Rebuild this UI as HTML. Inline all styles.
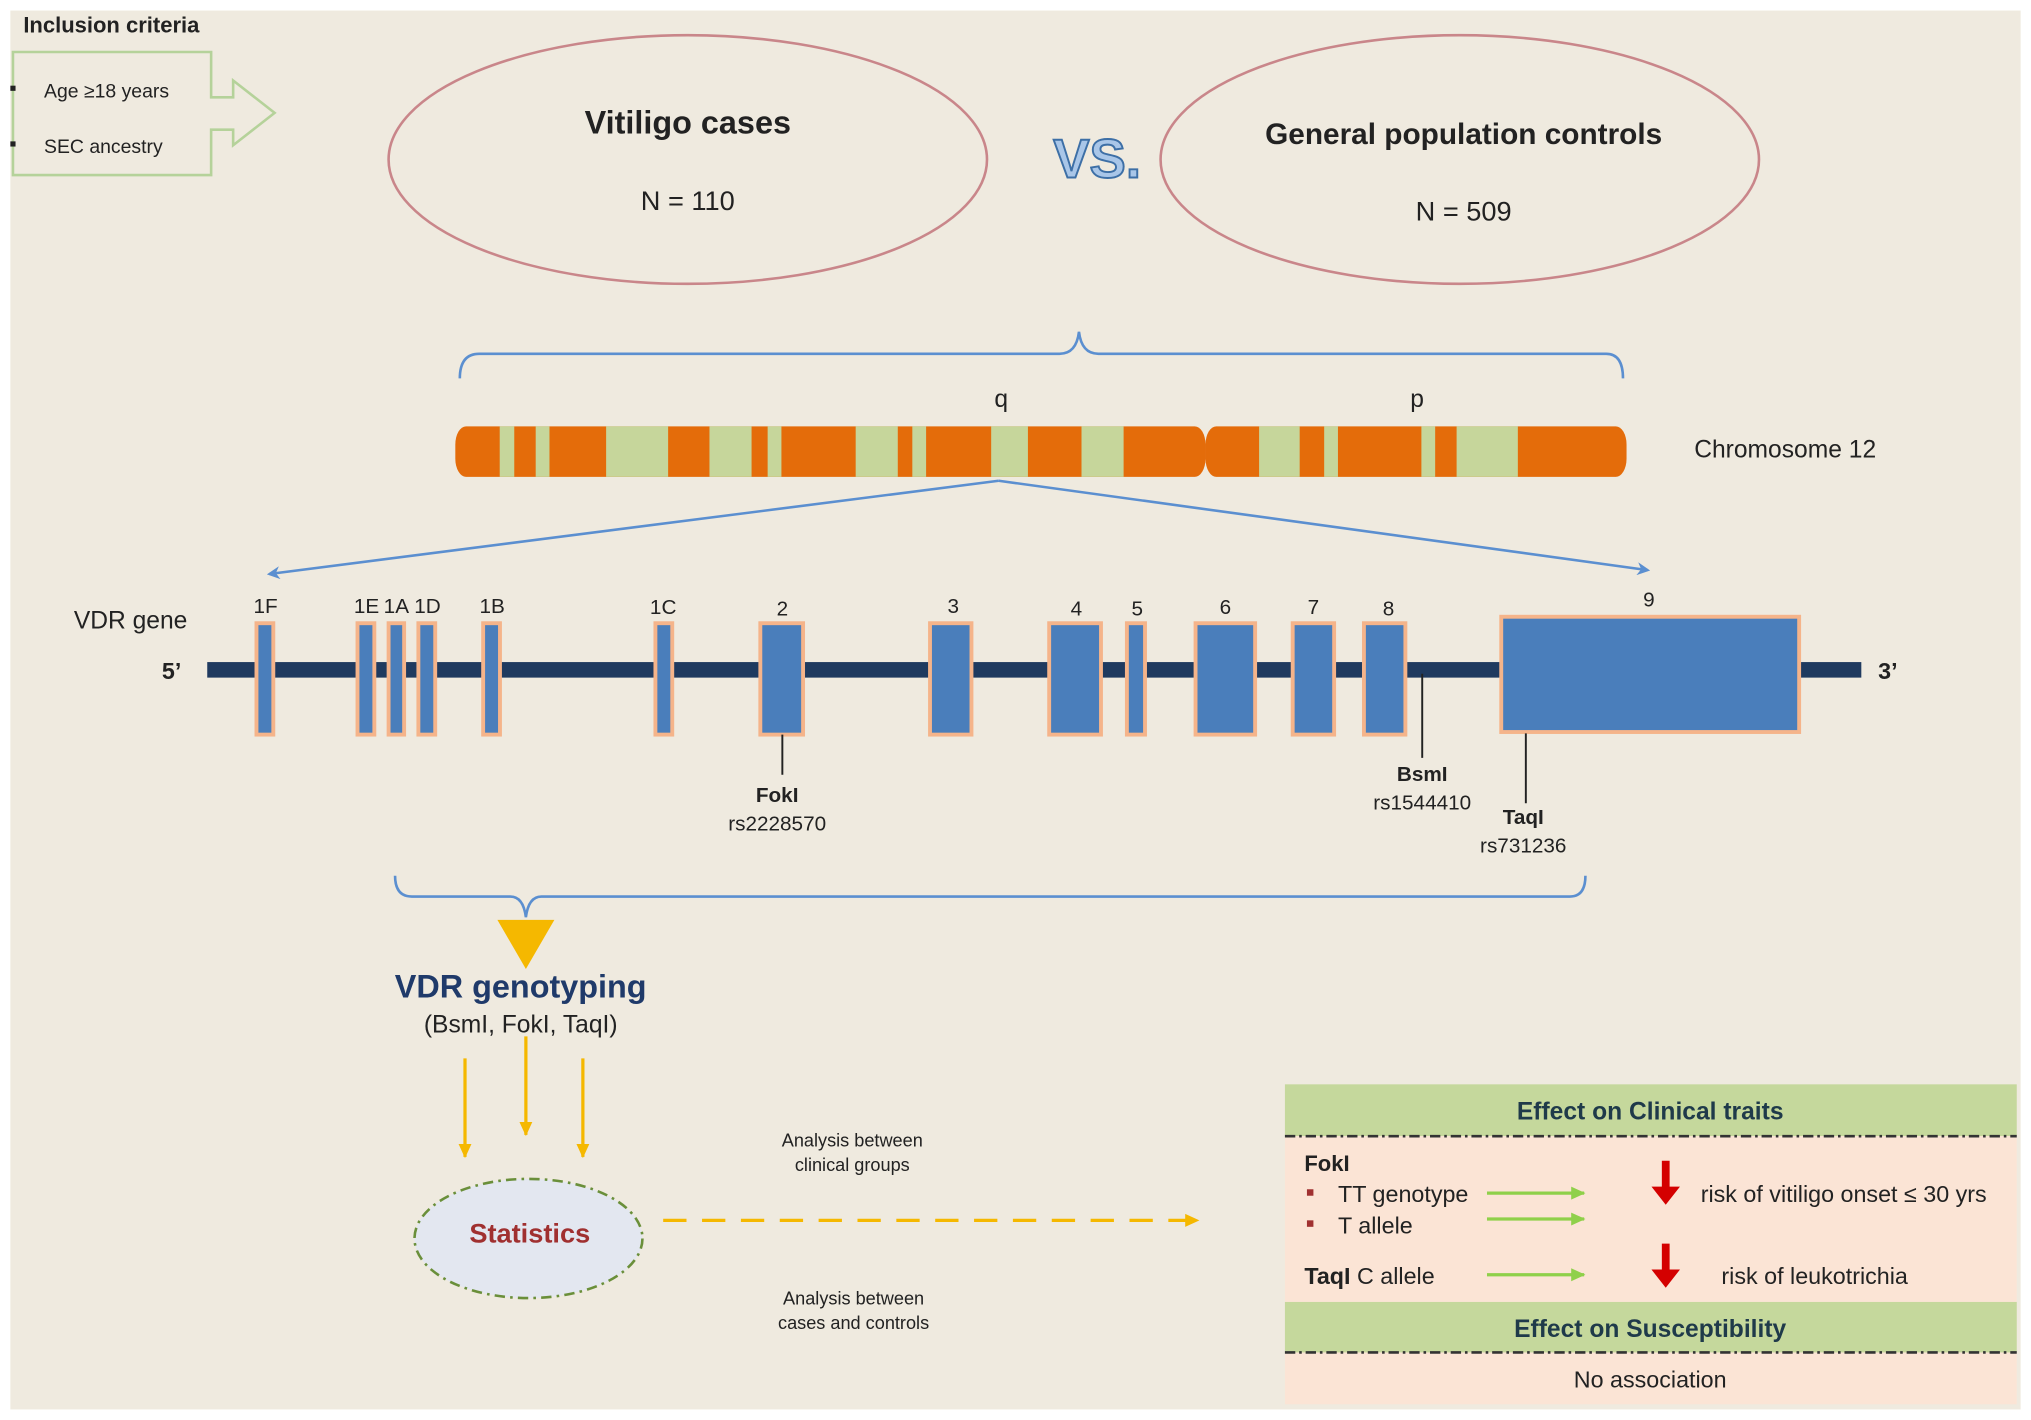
<!DOCTYPE html>
<html><head><meta charset="utf-8"><style>html,body{margin:0;padding:0;background:#fff}svg{display:block}text{font-family:"Liberation Sans",sans-serif;fill:#222}</style></head>
<body>
<svg width="2031" height="1420" viewBox="0 0 1568 1096" xmlns="http://www.w3.org/2000/svg">
<defs>
<marker id="ab" markerWidth="10" markerHeight="10" refX="8" refY="5" orient="auto" markerUnits="userSpaceOnUse"><path d="M0,0 L10,5 L0,10 L3,5 z" fill="#5b8fd0"/></marker>
<marker id="ay" markerWidth="12" markerHeight="12" refX="10" refY="6" orient="auto" markerUnits="userSpaceOnUse"><path d="M0,1 L11,6 L0,11 z" fill="#f5b800"/></marker>
<marker id="ag" markerWidth="12" markerHeight="12" refX="10" refY="6" orient="auto" markerUnits="userSpaceOnUse"><path d="M0,1 L11,6 L0,11 z" fill="#8fd04a"/></marker>
</defs>
<rect x="8" y="8" width="1552" height="1080" fill="#efeadf"/>
<text x="18" y="25" font-size="17" font-weight="bold">Inclusion criteria</text>
<polygon points="10,40 163,40 163,75 180,75 180,62 212,87 180,112 180,100 163,100 163,135 10,135" fill="none" stroke="#b5d29a" stroke-width="2"/>
<rect x="8" y="66" width="4" height="4" fill="#222"/><rect x="8" y="109" width="4" height="4" fill="#222"/>
<text x="34" y="75" font-size="15">Age ≥18 years</text>
<text x="34" y="118" font-size="15">SEC ancestry</text>
<ellipse cx="531" cy="123" rx="231" ry="96" fill="none" stroke="#c9868a" stroke-width="2"/>
<text x="531" y="103" font-size="25" font-weight="bold" text-anchor="middle">Vitiligo cases</text>
<text x="531" y="162" font-size="21" text-anchor="middle">N = 110</text>
<text x="847" y="137" font-size="42" font-weight="bold" text-anchor="middle" style="fill:#a9c6e8" stroke="#3d6fa6" stroke-width="1.5">VS.</text>
<ellipse cx="1127" cy="123" rx="231" ry="96" fill="none" stroke="#c9868a" stroke-width="2"/>
<text x="1130" y="111" font-size="23" font-weight="bold" text-anchor="middle">General population controls</text>
<text x="1130" y="170" font-size="21" text-anchor="middle">N = 509</text>
<path d="M355,292 Q355,273 370,273 L818,273 Q831,273 833,256 Q835,273 848,273 L1240,273 Q1253,273 1253,292" fill="none" stroke="#5b8fd0" stroke-width="2"/>
<text x="773" y="314" font-size="19" text-anchor="middle">q</text>
<text x="1094" y="314" font-size="19" text-anchor="middle">p</text>
<g transform="translate(339.7,0) scale(0.591,1)">
<rect x="20" y="329" width="980" height="39" rx="14" fill="#e46c0a"/>
<rect x="1000" y="329" width="550" height="39" rx="14" fill="#e46c0a"/>
<g fill="#c6d69b">
<rect x="78" y="329" width="19" height="39"/><rect x="125" y="329" width="18" height="39"/><rect x="217" y="329" width="81" height="39"/><rect x="352" y="329" width="55" height="39"/><rect x="428" y="329" width="18" height="39"/><rect x="543" y="329" width="55" height="39"/><rect x="617" y="329" width="18" height="39"/><rect x="720" y="329" width="48" height="39"/><rect x="838" y="329" width="55" height="39"/><rect x="1070" y="329" width="53" height="39"/><rect x="1155" y="329" width="18" height="39"/><rect x="1282" y="329" width="18" height="39"/><rect x="1328" y="329" width="80" height="39"/>
</g></g>
<text x="1308" y="353" font-size="19">Chromosome 12</text>
<line x1="771" y1="371" x2="208" y2="443" stroke="#5b8fd0" stroke-width="2" marker-end="url(#ab)"/>
<line x1="771" y1="371" x2="1272" y2="440" stroke="#5b8fd0" stroke-width="2" marker-end="url(#ab)"/>
<text x="57" y="485" font-size="19">VDR gene</text>
<rect x="160" y="511" width="1277" height="12" fill="#1f3a5f"/>
<text x="125" y="524" font-size="18" font-weight="bold">5’</text>
<text x="1450" y="524" font-size="18" font-weight="bold">3’</text>
<g fill="#4a7ebb" stroke="#f5b48a" stroke-width="3">
<rect x="198" y="481" width="13" height="86"/><rect x="276" y="481" width="13" height="86"/><rect x="300" y="481" width="12" height="86"/><rect x="323" y="481" width="13" height="86"/><rect x="373" y="481" width="13" height="86"/><rect x="506" y="481" width="13" height="86"/><rect x="587" y="481" width="33" height="86"/><rect x="718" y="481" width="32" height="86"/><rect x="810" y="481" width="40" height="86"/><rect x="870" y="481" width="14" height="86"/><rect x="923" y="481" width="46" height="86"/><rect x="998" y="481" width="32" height="86"/><rect x="1053" y="481" width="32" height="86"/><rect x="1159" y="476" width="230" height="89"/>
</g>
<g font-size="16" text-anchor="middle">
<text x="205" y="473">1F</text><text x="283" y="473">1E</text><text x="306" y="473">1A</text><text x="330" y="473">1D</text><text x="380" y="473">1B</text><text x="512" y="474">1C</text><text x="604" y="475">2</text><text x="736" y="473">3</text><text x="831" y="475">4</text><text x="878" y="475">5</text><text x="946" y="474">6</text><text x="1014" y="474">7</text><text x="1072" y="475">8</text><text x="1273" y="468">9</text>
</g>
<g stroke="#222" stroke-width="1.5"><line x1="604" y1="567" x2="604" y2="598"/><line x1="1098" y1="520" x2="1098" y2="585"/><line x1="1178" y1="566" x2="1178" y2="620"/></g>
<g font-size="16" text-anchor="middle">
<text x="600" y="619" font-weight="bold">FokI</text><text x="600" y="641">rs2228570</text>
<text x="1098" y="603" font-weight="bold">BsmI</text><text x="1098" y="625">rs1544410</text>
<text x="1176" y="636" font-weight="bold">TaqI</text><text x="1176" y="658">rs731236</text>
</g>
<path d="M305,676 Q305,692 318,692 L394,692 Q404,692 406,708 Q408,692 418,692 L1212,692 Q1224,692 1224,676" fill="none" stroke="#5b8fd0" stroke-width="2"/>
<polygon points="384,710 428,710 406,748" fill="#f5b800"/>
<text x="402" y="770" font-size="25" font-weight="bold" text-anchor="middle" style="fill:#1f3a6a">VDR genotyping</text>
<text x="402" y="797" font-size="19" text-anchor="middle">(BsmI, FokI, TaqI)</text>
<g stroke="#f5b800" stroke-width="2.5">
<line x1="359" y1="817" x2="359" y2="893" marker-end="url(#ay)"/><line x1="406" y1="800" x2="406" y2="876" marker-end="url(#ay)"/><line x1="450" y1="817" x2="450" y2="893" marker-end="url(#ay)"/>
<line x1="512" y1="942" x2="925" y2="942" stroke-dasharray="18,12" marker-end="url(#ay)"/>
</g>
<ellipse cx="408" cy="956" rx="88" ry="46" fill="#e3e7f0" stroke="#6a8f3a" stroke-width="2" stroke-dasharray="8,4,2,4"/>
<text x="409" y="959" font-size="21" font-weight="bold" text-anchor="middle" style="fill:#a03030">Statistics</text>
<g font-size="14" text-anchor="middle"><text x="658" y="885">Analysis between</text><text x="658" y="904">clinical groups</text><text x="659" y="1007">Analysis between</text><text x="659" y="1026">cases and controls</text></g>
<rect x="992" y="837" width="565" height="40" fill="#c5d89c"/>
<rect x="992" y="877" width="565" height="128" fill="#fbe4d5"/>
<rect x="992" y="1005" width="565" height="39" fill="#c5d89c"/>
<rect x="992" y="1044" width="565" height="40" fill="#fbe4d5"/>
<g stroke="#333" stroke-width="2" stroke-dasharray="8,3,2,3"><line x1="992" y1="877" x2="1557" y2="877"/><line x1="992" y1="1044" x2="1557" y2="1044"/></g>
<text x="1274" y="864" font-size="19" font-weight="bold" text-anchor="middle" style="fill:#1f3a4a">Effect on Clinical traits</text>
<text x="1274" y="1032" font-size="19" font-weight="bold" text-anchor="middle" style="fill:#1f3a4a">Effect on Susceptibility</text>
<text x="1274" y="1071" font-size="18" text-anchor="middle">No association</text>
<text x="1007" y="904" font-size="17" font-weight="bold">FokI</text>
<rect x="1009" y="918" width="5" height="5" fill="#a03030"/><rect x="1009" y="942" width="5" height="5" fill="#a03030"/>
<text x="1033" y="928" font-size="18">TT genotype</text>
<text x="1033" y="952" font-size="18">T allele</text>
<text x="1007" y="991" font-size="18"><tspan font-weight="bold">TaqI</tspan> C allele</text>
<g stroke="#8fd04a" stroke-width="2.5"><line x1="1148" y1="921" x2="1223" y2="921" marker-end="url(#ag)"/><line x1="1148" y1="941" x2="1223" y2="941" marker-end="url(#ag)"/><line x1="1148" y1="984" x2="1223" y2="984" marker-end="url(#ag)"/></g>
<g fill="#d40000"><path d="M1283,896 h6 v20 h8 l-11,14 l-11,-14 h8 z"/><path d="M1283,960 h6 v20 h8 l-11,14 l-11,-14 h8 z"/></g>
<text x="1313" y="928" font-size="18">risk of vitiligo onset ≤ 30 yrs</text>
<text x="1329" y="991" font-size="18">risk of leukotrichia</text>
</svg>
</body></html>
